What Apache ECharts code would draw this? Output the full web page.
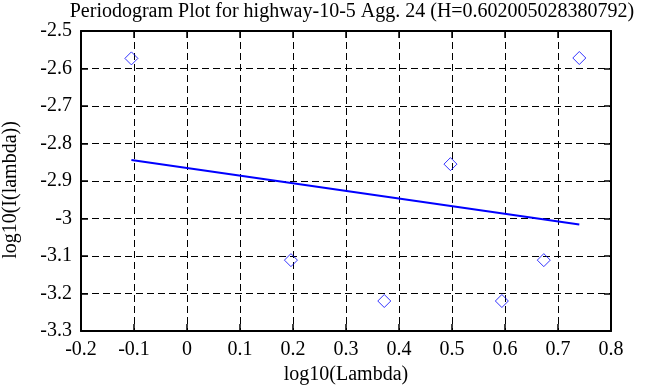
<!DOCTYPE html>
<html><head><meta charset="utf-8">
<script src="https://cdn.jsdelivr.net/npm/echarts@6/dist/echarts.min.js"></script>
<style>html,body{margin:0;padding:0;background:#fff}#c{width:668px;height:387px}</style>
</head><body><div id="c"></div>
<script>
const titleText = 'Periodogram Plot for highway-10-5 Agg. 24 (H=0.602005028380792)';
const logLambda = [-0.1049, 0.1961, 0.3722, 0.4971, 0.5941, 0.6732, 0.7402];
const logI = [-2.573, -3.111, -3.220, -2.855, -3.220, -3.111, -2.572];
const fitX = [-0.1049, 0.7402];
const fitY = [-2.844, -3.016];
const xName = 'log10(Lambda)';
const yName = 'log10(I(lambda))';

const font = 'Liberation Serif';
const fs = 20;
const chart = echarts.init(document.getElementById('c'), null, {renderer: 'canvas'});
const axisCommon = {
  axisLine: {show: true, onZero: false, lineStyle: {color: '#000', width: 2}},
  axisTick: {show: true, inside: true, length: 7, lineStyle: {color: '#000', width: 1.5}},
  axisLabel: {color: '#000', fontFamily: font, fontSize: fs},
};
const gridLine = {show: true, lineStyle: {color: '#000', width: 1, type: [7, 4]}};
chart.setOption({
  animation: false,
  backgroundColor: '#fff',
  title: {text: titleText, left: 347, textAlign: 'center', top: -3,
    textStyle: {fontFamily: font, fontSize: fs, fontWeight: 'normal', color: '#000'}},
  grid: {left: 81, right: 57, top: 31, bottom: 56, containLabel: false, outerBoundsMode: 'none'},
  graphic: [{
    type: 'text', x: 11, y: 190, rotation: Math.PI / 2,
    style: {text: yName, fontFamily: font, fontSize: fs, fill: '#000', align: 'center', verticalAlign: 'middle'}
  }],
  xAxis: [
    Object.assign({type: 'value', min: -0.2, max: 0.8, interval: 0.1, position: 'bottom',
      name: xName, nameLocation: 'middle', nameGap: 33,
      nameTextStyle: {fontFamily: font, fontSize: fs, color: '#000'},
      splitLine: gridLine}, axisCommon, {axisLabel: {color: '#000', fontFamily: font, fontSize: fs, margin: 9}}),
    Object.assign({type: 'value', min: -0.2, max: 0.8, interval: 0.1, position: 'top',
      splitLine: {show: false}}, axisCommon, {axisLabel: {show: false}})
  ],
  yAxis: [
    Object.assign({type: 'value', min: -3.3, max: -2.5, interval: 0.1, position: 'left',
      splitLine: gridLine}, axisCommon, {axisLabel: {color: '#000', fontFamily: font, fontSize: fs, margin: 9}}),
    Object.assign({type: 'value', min: -3.3, max: -2.5, interval: 0.1, position: 'right',
      splitLine: {show: false}}, axisCommon, {axisLabel: {show: false}})
  ],
  series: [
    {type: 'scatter', xAxisIndex: 0, yAxisIndex: 0, symbol: 'diamond', symbolSize: 13,
      itemStyle: {color: 'transparent', borderColor: '#0000ff', borderWidth: 1},
      data: logLambda.map((x, i) => [x, logI[i]])},
    {type: 'line', xAxisIndex: 0, yAxisIndex: 0, symbol: 'none',
      lineStyle: {color: '#0000ff', width: 2},
      data: fitX.map((x, i) => [x, fitY[i]])}
  ]
});
</script></body></html>
